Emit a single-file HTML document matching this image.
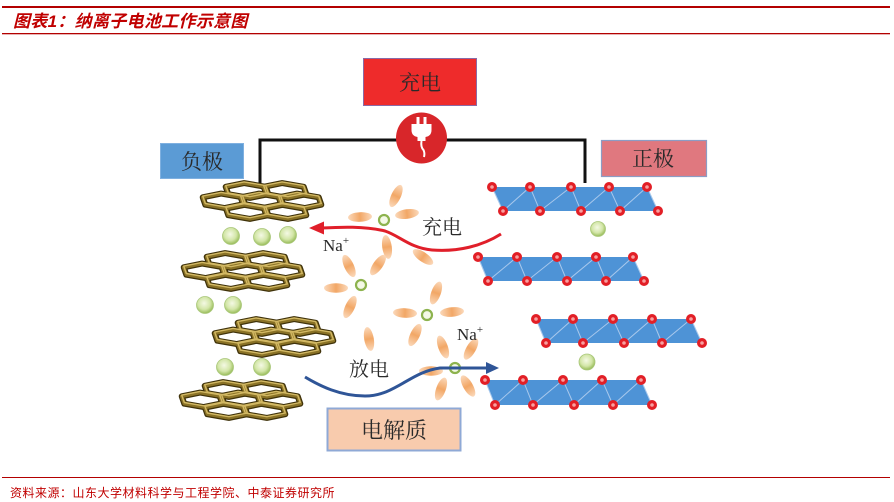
<!DOCTYPE html>
<html><head><meta charset="utf-8">
<style>
html,body{margin:0;padding:0;background:#fff;}
body{width:894px;height:502px;overflow:hidden;position:relative;}
svg{position:absolute;left:0;top:0;}
.t{font-family:"Liberation Serif","Noto Serif CJK SC",serif;fill:#2a2a2a;}
</style></head>
<body>
<svg width="894" height="502" viewBox="0 0 894 502" xmlns="http://www.w3.org/2000/svg">
<defs>
  <radialGradient id="gb" cx="45%" cy="40%" r="60%">
    <stop offset="0" stop-color="#f4f9e4"/>
    <stop offset="0.6" stop-color="#d3e6a8"/>
    <stop offset="1" stop-color="#97bb58"/>
  </radialGradient>
  <linearGradient id="pg" x1="0" y1="0" x2="1" y2="0">
    <stop offset="0" stop-color="#fbd9bb"/>
    <stop offset="0.5" stop-color="#f2a766"/>
    <stop offset="1" stop-color="#fbd9bb"/>
  </linearGradient>
  <g id="hex">
    <polygon points="-2.9,-7.4 18.7,-3.7 21.3,3.7 2.9,7.4 -18.7,3.7 -21.3,-3.7"/>
  </g>
  <g id="sheet">
    <g fill="none" stroke="#3f320a" stroke-width="6" stroke-linejoin="round">
      <use href="#hex" x="-15" y="-10.5"/><use href="#hex" x="23" y="-10.5"/>
      <use href="#hex" x="-38" y="0"/><use href="#hex" x="0" y="0"/><use href="#hex" x="38" y="0"/>
      <use href="#hex" x="-15" y="10.5"/><use href="#hex" x="23" y="10.5"/>
    </g>
    <g fill="none" stroke="#8a7226" stroke-width="3.5" stroke-linejoin="round">
      <use href="#hex" x="-15" y="-10.5"/><use href="#hex" x="23" y="-10.5"/>
      <use href="#hex" x="-38" y="0"/><use href="#hex" x="0" y="0"/><use href="#hex" x="38" y="0"/>
      <use href="#hex" x="-15" y="10.5"/><use href="#hex" x="23" y="10.5"/>
    </g>
    <g fill="none" stroke="#d2b863" stroke-width="1.4" stroke-linejoin="round" transform="translate(0,-1.2)">
      <use href="#hex" x="-15" y="-10.5"/><use href="#hex" x="23" y="-10.5"/>
      <use href="#hex" x="-38" y="0"/><use href="#hex" x="0" y="0"/><use href="#hex" x="38" y="0"/>
      <use href="#hex" x="-15" y="10.5"/><use href="#hex" x="23" y="10.5"/>
    </g>
  </g>
  <g id="petal"><ellipse cx="0" cy="0" rx="12" ry="4.8" fill="url(#pg)"/></g>
  <g id="oc"><circle r="5" fill="#e21f26"/><circle r="1.8" fill="#f7a0a0"/></g>
</defs>

<!-- header -->
<rect x="2" y="6" width="888" height="2" fill="#b30000"/>
<rect x="2" y="33" width="888" height="1.3" fill="#b30000"/>
<text x="13" y="27" font-family="'Liberation Sans','Noto Sans CJK SC',sans-serif" font-size="17" font-weight="bold" font-style="italic" fill="#c00000" letter-spacing="0.3">图表1：纳离子电池工作示意图</text>

<!-- footer -->
<rect x="2" y="477" width="888" height="1" fill="#b30000"/>
<text x="10" y="497" font-family="'Liberation Sans','Noto Sans CJK SC',sans-serif" font-size="12" fill="#c00000" letter-spacing="0.5">资料来源：山东大学材料科学与工程学院、中泰证券研究所</text>

<!-- wire -->
<path d="M260,183 L260,140 L585,140 L585,183" fill="none" stroke="#111" stroke-width="3"/>

<!-- charge box -->
<rect x="363.5" y="58.5" width="113" height="47" fill="#ee2b2b" stroke="#8a6aa6" stroke-width="1"/>
<text class="t" x="420" y="90" font-size="21" text-anchor="middle">充电</text>

<!-- plug -->
<circle cx="421.5" cy="138" r="25.5" fill="#d8262a"/>
<rect x="416.5" y="117" width="3" height="8" fill="#fff"/>
<rect x="423.5" y="117" width="3" height="8" fill="#fff"/>
<path d="M411.5,124 L431.5,124 L431.5,130 Q431.5,136 425.5,137 L425.5,141 L417.5,141 L417.5,137 Q411.5,136 411.5,130 Z" fill="#fff"/>
<path d="M421.5,141 Q420.5,147 423.5,150 Q425,153 424,157" fill="none" stroke="#fff" stroke-width="2"/>

<!-- neg / pos boxes -->
<rect x="160.5" y="143.5" width="83" height="35" fill="#5b9bd5" stroke="#7fb0e0" stroke-width="1"/>
<text class="t" x="202" y="169" font-size="21" text-anchor="middle">负极</text>
<rect x="601.5" y="140.5" width="105" height="36" fill="#e0787f" stroke="#8c9cc4" stroke-width="1.2"/>
<text class="t" x="653" y="166" font-size="21" text-anchor="middle">正极</text>

<!-- electrolyte -->
<rect x="327.5" y="408.5" width="133" height="42" fill="#f8cbad" stroke="#8fa9d6" stroke-width="2"/>
<text class="t" x="394" y="438" font-size="22" text-anchor="middle">电解质</text>

<!-- graphite sheets -->
<use href="#sheet" x="262" y="201"/>
<use href="#sheet" x="243" y="271"/>
<use href="#sheet" x="274" y="337"/>
<use href="#sheet" x="241" y="400"/>

<!-- Na balls -->
<g fill="url(#gb)" stroke="#a9c77a" stroke-width="0.8">
  <circle cx="231" cy="236" r="8.5"/><circle cx="262" cy="237" r="8.5"/><circle cx="288" cy="235" r="8.5"/>
  <circle cx="205" cy="305" r="8.5"/><circle cx="233" cy="305" r="8.5"/>
  <circle cx="225" cy="367" r="8.5"/><circle cx="262" cy="367" r="8.5"/>
  <circle cx="598" cy="229" r="7.5"/><circle cx="587" cy="362" r="8"/>
</g>

<!-- blue layers -->
<g fill="#4e93d6">
  <polygon points="492,187 647,187 658,211 503,211"/>
  <polygon points="478,257 633,257 644,281 488,281"/>
  <polygon points="536,319 691,319 702,343 546,343"/>
  <polygon points="485,380 641,380 652,405 495,405"/>
</g>
<g stroke="#a8c8ec" stroke-width="1" fill="none">
  <path d="M492,187 L503,211 L530,187 L540,211 L571,187 L581,211 L609,187 L620,211 L647,187 L658,211"/>
  <path d="M478,257 L488,281 L517,257 L527,281 L557,257 L567,281 L596,257 L606,281 L633,257 L644,281"/>
  <path d="M536,319 L546,343 L573,319 L583,343 L613,319 L624,343 L652,319 L662,343 L691,319 L702,343"/>
  <path d="M485,380 L495,405 L523,380 L533,405 L563,380 L574,405 L602,380 L613,405 L641,380 L652,405"/>
</g>
<g>
  <use href="#oc" x="492" y="187"/><use href="#oc" x="530" y="187"/><use href="#oc" x="571" y="187"/><use href="#oc" x="609" y="187"/><use href="#oc" x="647" y="187"/>
  <use href="#oc" x="503" y="211"/><use href="#oc" x="540" y="211"/><use href="#oc" x="581" y="211"/><use href="#oc" x="620" y="211"/><use href="#oc" x="658" y="211"/>
  <use href="#oc" x="478" y="257"/><use href="#oc" x="517" y="257"/><use href="#oc" x="557" y="257"/><use href="#oc" x="596" y="257"/><use href="#oc" x="633" y="257"/>
  <use href="#oc" x="488" y="281"/><use href="#oc" x="527" y="281"/><use href="#oc" x="567" y="281"/><use href="#oc" x="606" y="281"/><use href="#oc" x="644" y="281"/>
  <use href="#oc" x="536" y="319"/><use href="#oc" x="573" y="319"/><use href="#oc" x="613" y="319"/><use href="#oc" x="652" y="319"/><use href="#oc" x="691" y="319"/>
  <use href="#oc" x="546" y="343"/><use href="#oc" x="583" y="343"/><use href="#oc" x="624" y="343"/><use href="#oc" x="662" y="343"/><use href="#oc" x="702" y="343"/>
  <use href="#oc" x="485" y="380"/><use href="#oc" x="523" y="380"/><use href="#oc" x="563" y="380"/><use href="#oc" x="602" y="380"/><use href="#oc" x="641" y="380"/>
  <use href="#oc" x="495" y="405"/><use href="#oc" x="533" y="405"/><use href="#oc" x="574" y="405"/><use href="#oc" x="613" y="405"/><use href="#oc" x="652" y="405"/>
</g>

<!-- petals -->
<g>
  <use href="#petal" transform="translate(396,196) rotate(-65)"/>
  <use href="#petal" transform="translate(360,217) rotate(-3)"/>
  <use href="#petal" transform="translate(407,214) rotate(-8)"/>
  <use href="#petal" transform="translate(387,247) rotate(82)"/>
  <use href="#petal" transform="translate(423,257) rotate(35)"/>
  <use href="#petal" transform="translate(349,266) rotate(-115)"/>
  <use href="#petal" transform="translate(378,265) rotate(-55)"/>
  <use href="#petal" transform="translate(336,288) rotate(0)"/>
  <use href="#petal" transform="translate(350,307) rotate(115)"/>
  <use href="#petal" transform="translate(369,339) rotate(80)"/>
  <use href="#petal" transform="translate(436,293) rotate(-70)"/>
  <use href="#petal" transform="translate(405,313) rotate(3)"/>
  <use href="#petal" transform="translate(452,312) rotate(-5)"/>
  <use href="#petal" transform="translate(415,335) rotate(115)"/>
  <use href="#petal" transform="translate(443,347) rotate(-110)"/>
  <use href="#petal" transform="translate(471,349) rotate(-60)"/>
  <use href="#petal" transform="translate(431,371) rotate(0)"/>
  <use href="#petal" transform="translate(441,389) rotate(110)"/>
  <use href="#petal" transform="translate(468,386) rotate(60)"/>
</g>
<g fill="#f4f9e6" stroke="#8db34e" stroke-width="2.2">
  <circle cx="384" cy="220" r="5"/>
  <circle cx="361" cy="285" r="5"/>
  <circle cx="427" cy="315" r="5"/>
  <circle cx="455" cy="368" r="5"/>
</g>

<!-- charge arrow -->
<path d="M501,234 C482,246 458,252 432,250 C410,248 400,236 385,231 C365,226 340,227 322,228" fill="none" stroke="#e01f2a" stroke-width="3"/>
<polygon points="309,228 324,221.5 324,234.5" fill="#e01f2a"/>
<text class="t" x="442" y="234" font-size="20" text-anchor="middle">充电</text>
<text class="t" x="323" y="251" font-size="17">Na<tspan font-size="11" dy="-7">+</tspan></text>

<!-- discharge arrow -->
<path d="M305,377 C320,386 340,396 365,396 C395,396 410,372 440,368 L488,368" fill="none" stroke="#2f5597" stroke-width="3"/>
<polygon points="499,368 486,362 486,374" fill="#2f5597"/>
<text class="t" x="369" y="376" font-size="20" text-anchor="middle">放电</text>
<text class="t" x="457" y="340" font-size="17">Na<tspan font-size="11" dy="-7">+</tspan></text>
</svg>
</body></html>
